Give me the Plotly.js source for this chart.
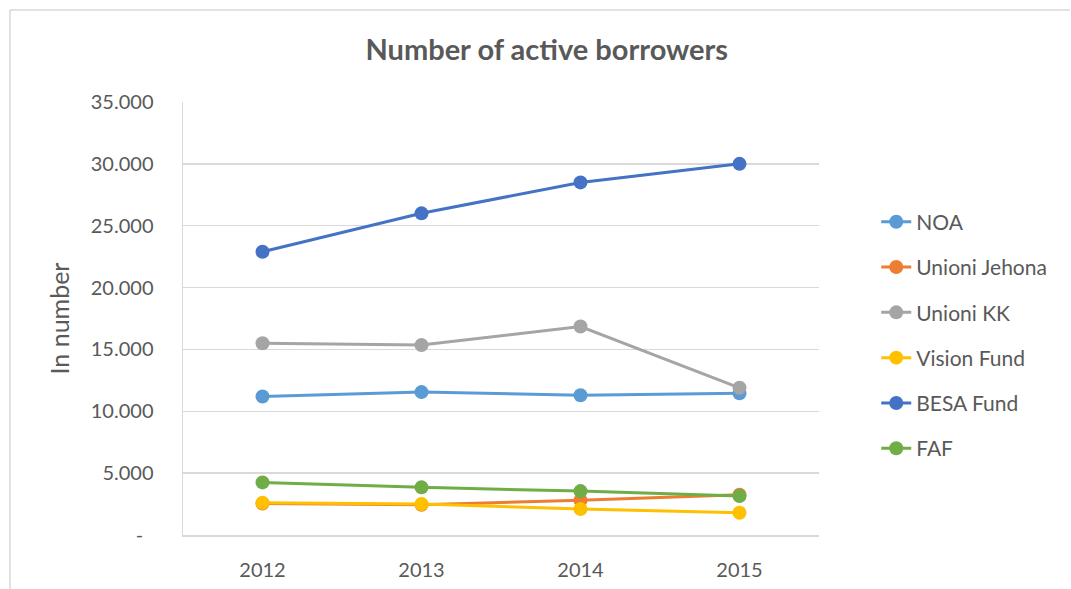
<!DOCTYPE html>
<html>
<head>
<meta charset="utf-8">
<script src="https://cdn.plot.ly/plotly-3.0.1.min.js"></script>
<style>html,body{margin:0;padding:0;background:#fff;}#chart{width:1071px;height:589px;}</style>
</head>
<body>
<div id="chart"></div>
<script>
const years = ["2012", "2013", "2014", "2015"];
const seriesNames = ["NOA", "Unioni Jehona", "Unioni KK", "Vision Fund", "BESA Fund", "FAF"];
const noa = [11200, 11550, 11300, 11450];
const unioniJehona = [2550, 2450, 2800, 3250];
const unioniKK = [15500, 15350, 16850, 11900];
const visionFund = [2600, 2500, 2100, 1800];
const besaFund = [22900, 26000, 28500, 30000];
const faf = [4250, 3850, 3550, 3150];
const colors = ["#5B9BD5", "#ED7D31", "#A5A5A5", "#FFC000", "#4472C4", "#70AD47"];
const yTickVals = [0, 5000, 10000, 15000, 20000, 25000, 30000, 35000];
const yTickText = ["-\u00a0\u00a0", "5.000", "10.000", "15.000", "20.000", "25.000", "30.000", "35.000"];

const allValues = [noa, unioniJehona, unioniKK, visionFund, besaFund, faf];
const FONT = "Lato, 'Open Sans', sans-serif";
const traces = allValues.map((vals, i) => ({
  x: years,
  y: vals,
  name: seriesNames[i],
  legendgroup: "g" + i,
  type: "scatter",
  mode: "lines+markers",
  line: {color: colors[i], width: 3},
  marker: {color: colors[i], size: 14},
  hoverinfo: "x+y+name"
}));

const layout = {
  width: 1071,
  height: 589,
  paper_bgcolor: "#ffffff",
  plot_bgcolor: "#ffffff",
  margin: {l: 183, r: 252, t: 102, b: 54},
  font: {family: FONT, color: "#595959", size: 20},
  title: {
    text: "<b>Number of active borrowers</b>",
    font: {family: FONT, size: 29, color: "#595959"},
    xref: "paper", x: 0.572, xanchor: "center",
    yref: "container", y: 1 - 50/589, yanchor: "middle"
  },
  xaxis: {
    type: "category",
    showgrid: false,
    showline: true,
    linecolor: "#D9D9D9",
    linewidth: 1.5,
    ticks: "",
    tickfont: {family: FONT, size: 20, color: "#595959"},
    ticklabelstandoff: 16,
    range: [-0.5, 3.5],
    zeroline: false
  },
  yaxis: {
    range: [0, 35000],
    tickvals: yTickVals,
    ticktext: yTickText,
    showgrid: true,
    gridcolor: "#D9D9D9",
    gridwidth: 1.5,
    showline: true,
    linecolor: "#D9D9D9",
    linewidth: 1.5,
    zeroline: false,
    ticks: "",
    tickfont: {family: FONT, size: 20, color: "#595959"},
    ticklabelstandoff: 24,
    title: {text: "In number", font: {family: FONT, size: 25, color: "#595959"}, standoff: 14}
  },
  legend: {
    x: 1.09, xanchor: "left",
    y: 0.77, yanchor: "top",
    font: {family: FONT, size: 21, color: "#595959"},
    tracegroupgap: 15,
    bgcolor: "rgba(0,0,0,0)"
  },
  shapes: [
    {type: "line", xref: "paper", yref: "paper", x0: (10-183)/636, x1: (1070-183)/636, y0: (589-54-10)/433, y1: (589-54-10)/433, line: {color: "#D9D9D9", width: 1.5}},
    {type: "line", xref: "paper", yref: "paper", x0: (10-183)/636, x1: (10-183)/636, y0: (589-54-10)/433, y1: -54/433, line: {color: "#D9D9D9", width: 1.5}}
  ]
};

Plotly.newPlot("chart", traces, layout, {displayModeBar: false, staticPlot: true});
</script>
</body>
</html>
